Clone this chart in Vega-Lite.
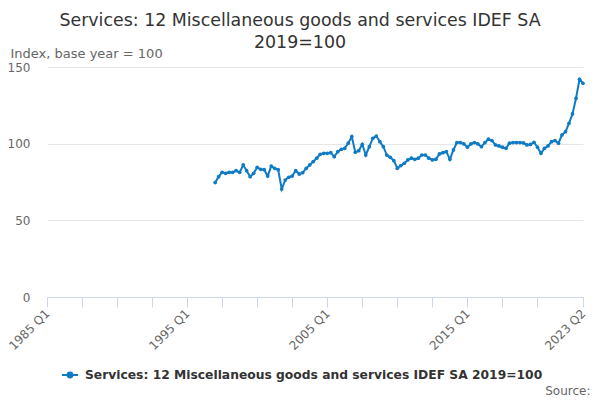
{
  "$schema": "https://vega.github.io/schema/vega-lite/v6.json",
  "autosize": {"type": "none"},
  "width": 536,
  "height": 230,
  "padding": {"left": 47, "top": 67, "right": 17, "bottom": 103},
  "background": "white",
  "config": {
    "font": "DejaVu Sans",
    "view": {"stroke": null}
  },
  "title": {
    "text": ["Services: 12 Miscellaneous goods and services IDEF SA", "2019=100"],
    "fontSize": 17.4,
    "fontWeight": "normal",
    "color": "#333333",
    "anchor": "middle",
    "frame": "group",
    "dx": -15,
    "dy": 22,
    "offset": 18,
    "lineHeight": 22
  },
  "data": {
    "values": [
      {"date": "1997-01-01", "value": 74.6},
      {"date": "1997-04-01", "value": 78.5},
      {"date": "1997-07-01", "value": 81.3},
      {"date": "1997-10-01", "value": 80.7},
      {"date": "1998-01-01", "value": 81.3},
      {"date": "1998-04-01", "value": 81.3},
      {"date": "1998-07-01", "value": 82.4},
      {"date": "1998-10-01", "value": 81.3},
      {"date": "1999-01-01", "value": 86.1},
      {"date": "1999-04-01", "value": 82.4},
      {"date": "1999-07-01", "value": 78.5},
      {"date": "1999-10-01", "value": 80.7},
      {"date": "2000-01-01", "value": 84.6},
      {"date": "2000-04-01", "value": 83.3},
      {"date": "2000-07-01", "value": 83.0},
      {"date": "2000-10-01", "value": 78.9},
      {"date": "2001-01-01", "value": 85.4},
      {"date": "2001-04-01", "value": 83.9},
      {"date": "2001-07-01", "value": 83.0},
      {"date": "2001-10-01", "value": 70.4},
      {"date": "2002-01-01", "value": 76.3},
      {"date": "2002-04-01", "value": 78.1},
      {"date": "2002-07-01", "value": 78.9},
      {"date": "2002-10-01", "value": 82.4},
      {"date": "2003-01-01", "value": 80.2},
      {"date": "2003-04-01", "value": 81.1},
      {"date": "2003-07-01", "value": 83.9},
      {"date": "2003-10-01", "value": 86.1},
      {"date": "2004-01-01", "value": 88.3},
      {"date": "2004-04-01", "value": 90.5},
      {"date": "2004-07-01", "value": 93.1},
      {"date": "2004-10-01", "value": 93.7},
      {"date": "2005-01-01", "value": 93.7},
      {"date": "2005-04-01", "value": 94.1},
      {"date": "2005-07-01", "value": 91.5},
      {"date": "2005-10-01", "value": 94.8},
      {"date": "2006-01-01", "value": 96.3},
      {"date": "2006-04-01", "value": 97.0},
      {"date": "2006-07-01", "value": 100.3},
      {"date": "2006-10-01", "value": 104.6},
      {"date": "2007-01-01", "value": 94.4},
      {"date": "2007-04-01", "value": 95.4},
      {"date": "2007-07-01", "value": 99.6},
      {"date": "2007-10-01", "value": 92.6},
      {"date": "2008-01-01", "value": 98.0},
      {"date": "2008-04-01", "value": 103.5},
      {"date": "2008-07-01", "value": 105.0},
      {"date": "2008-10-01", "value": 101.3},
      {"date": "2009-01-01", "value": 98.0},
      {"date": "2009-04-01", "value": 92.6},
      {"date": "2009-07-01", "value": 91.1},
      {"date": "2009-10-01", "value": 88.9},
      {"date": "2010-01-01", "value": 83.9},
      {"date": "2010-04-01", "value": 85.7},
      {"date": "2010-07-01", "value": 87.2},
      {"date": "2010-10-01", "value": 89.4},
      {"date": "2011-01-01", "value": 90.5},
      {"date": "2011-04-01", "value": 89.8},
      {"date": "2011-07-01", "value": 90.5},
      {"date": "2011-10-01", "value": 92.6},
      {"date": "2012-01-01", "value": 92.6},
      {"date": "2012-04-01", "value": 90.5},
      {"date": "2012-07-01", "value": 89.4},
      {"date": "2012-10-01", "value": 89.8},
      {"date": "2013-01-01", "value": 93.3},
      {"date": "2013-04-01", "value": 94.1},
      {"date": "2013-07-01", "value": 94.8},
      {"date": "2013-10-01", "value": 89.8},
      {"date": "2014-01-01", "value": 95.9},
      {"date": "2014-04-01", "value": 100.7},
      {"date": "2014-07-01", "value": 100.7},
      {"date": "2014-10-01", "value": 99.8},
      {"date": "2015-01-01", "value": 97.7},
      {"date": "2015-04-01", "value": 99.8},
      {"date": "2015-07-01", "value": 100.7},
      {"date": "2015-10-01", "value": 99.8},
      {"date": "2016-01-01", "value": 98.0},
      {"date": "2016-04-01", "value": 100.7},
      {"date": "2016-07-01", "value": 102.9},
      {"date": "2016-10-01", "value": 102.0},
      {"date": "2017-01-01", "value": 99.2},
      {"date": "2017-04-01", "value": 98.5},
      {"date": "2017-07-01", "value": 97.7},
      {"date": "2017-10-01", "value": 97.0},
      {"date": "2018-01-01", "value": 100.3},
      {"date": "2018-04-01", "value": 100.7},
      {"date": "2018-07-01", "value": 100.7},
      {"date": "2018-10-01", "value": 100.7},
      {"date": "2019-01-01", "value": 100.5},
      {"date": "2019-04-01", "value": 99.2},
      {"date": "2019-07-01", "value": 99.5},
      {"date": "2019-10-01", "value": 100.9},
      {"date": "2020-01-01", "value": 97.7},
      {"date": "2020-04-01", "value": 93.7},
      {"date": "2020-07-01", "value": 97.0},
      {"date": "2020-10-01", "value": 98.5},
      {"date": "2021-01-01", "value": 101.3},
      {"date": "2021-04-01", "value": 102.0},
      {"date": "2021-07-01", "value": 100.3},
      {"date": "2021-10-01", "value": 105.7},
      {"date": "2022-01-01", "value": 107.8},
      {"date": "2022-04-01", "value": 113.3},
      {"date": "2022-07-01", "value": 119.4},
      {"date": "2022-10-01", "value": 129.6},
      {"date": "2023-01-01", "value": 142.0},
      {"date": "2023-04-01", "value": 139.4}
    ]
  },
  "mark": {"type": "line", "strokeWidth": 2, "point": {"size": 14, "filled": true}},
  "encoding": {
    "x": {
      "field": "date",
      "type": "temporal",
      "scale": {"type": "utc", "domain": [{"year": 1985, "month": 1, "date": 1, "utc": true}, {"year": 2023, "month": 4, "date": 1, "utc": true}]},
      "axis": {
        "values": [
          {"year": 1985, "month": 1, "date": 1, "utc": true},
          {"year": 1987, "month": 7, "date": 1, "utc": true},
          {"year": 1990, "month": 1, "date": 1, "utc": true},
          {"year": 1992, "month": 7, "date": 1, "utc": true},
          {"year": 1995, "month": 1, "date": 1, "utc": true},
          {"year": 1997, "month": 7, "date": 1, "utc": true},
          {"year": 2000, "month": 1, "date": 1, "utc": true},
          {"year": 2002, "month": 7, "date": 1, "utc": true},
          {"year": 2005, "month": 1, "date": 1, "utc": true},
          {"year": 2007, "month": 7, "date": 1, "utc": true},
          {"year": 2010, "month": 1, "date": 1, "utc": true},
          {"year": 2012, "month": 7, "date": 1, "utc": true},
          {"year": 2015, "month": 1, "date": 1, "utc": true},
          {"year": 2017, "month": 7, "date": 1, "utc": true},
          {"year": 2020, "month": 1, "date": 1, "utc": true},
          {"year": 2023, "month": 4, "date": 1, "utc": true}
        ],
        "labelExpr": "indexof(['1985-01','1995-01','2005-01','2015-01','2023-04'], utcFormat(datum.value, '%Y-%m')) >= 0 ? utcFormat(datum.value, '%Y Q%q') : ''",
        "labelAngle": -45,
        "labelAlign": "right",
        "labelBaseline": "middle",
        "labelFontSize": 12,
        "labelColor": "#666666",
        "labelPadding": 4,
        "labelOverlap": false,
        "labelFlush": false,
        "grid": false,
        "domainColor": "#ccd6eb",
        "tickColor": "#ccd6eb",
        "tickSize": 10,
        "title": "Source:",
        "titleFontSize": 12,
        "titleFontWeight": "normal",
        "titleColor": "#666666",
        "titleAnchor": "end",
        "titleAlign": "right",
        "titleBaseline": "alphabetic",
        "titleX": 543,
        "titleY": 97
      }
    },
    "y": {
      "field": "value",
      "type": "quantitative",
      "scale": {"domain": [0, 150], "nice": false},
      "axis": {
        "values": [0, 50, 100, 150],
        "domain": false,
        "ticks": false,
        "gridColor": "#e6e6e6",
        "labelFontSize": 12,
        "labelColor": "#666666",
        "labelPadding": 17,
        "title": "Index, base year = 100",
        "titleAngle": 0,
        "titleFontSize": 13,
        "titleFontWeight": "normal",
        "titleColor": "#666666",
        "titleAlign": "left",
        "titleBaseline": "alphabetic",
        "titleX": -37,
        "titleY": -10
      }
    },
    "color": {
      "datum": "Services: 12 Miscellaneous goods and services IDEF SA 2019=100",
      "type": "nominal",
      "scale": {"range": ["#0f7bc4"]},
      "legend": {
        "title": null,
        "orient": "none",
        "legendX": 14,
        "legendY": 299,
        "symbolType": "M-1,0L1,0M-0.3,0A0.3,0.3,0,1,1,0.3,0A0.3,0.3,0,1,1,-0.3,0Z",
        "symbolSize": 256,
        "symbolStrokeWidth": 2,
        "symbolFillColor": "#0f7bc4",
        "symbolStrokeColor": "#0f7bc4",
        "labelFontSize": 12.3,
        "labelFontWeight": "bold",
        "labelColor": "#333333",
        "labelLimit": 600,
        "labelOffset": 6
      }
    }
  }
}
